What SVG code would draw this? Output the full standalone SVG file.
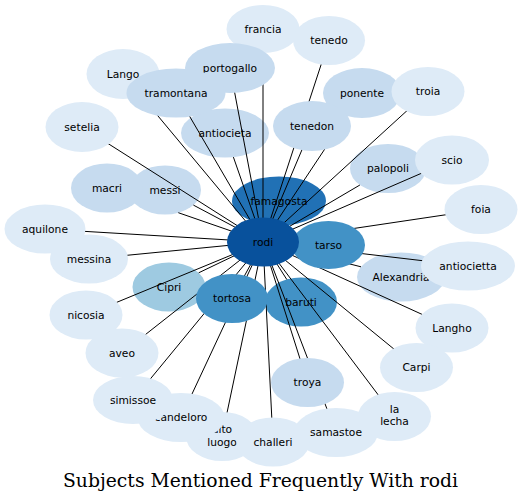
<svg xmlns="http://www.w3.org/2000/svg" width="522" height="503" viewBox="0 0 522 503">
<style>
.n text{font-family:"DejaVu Sans",sans-serif;font-size:10.7px;text-anchor:middle;fill:#000}
.l ellipse{fill:#deebf7}
.m ellipse{fill:#c6dbef}
.c ellipse{fill:#9ecae1}
.t ellipse{fill:#4292c6}
.f ellipse{fill:#2171b5}
.r ellipse{fill:#08519c}
#edges line{stroke:#000;stroke-width:1}
.title{font-family:"DejaVu Serif",serif;font-size:18px;text-anchor:middle;fill:#000}
</style>
<rect width="522" height="503" fill="#fff"/>
<g id="nodes-under">
<g id="antiocieta" class="n m"><ellipse cx="225" cy="133" rx="44" ry="24.5"/><text x="225" y="136.5">antiocieta</text></g>
<g id="palopoli" class="n m"><ellipse cx="388" cy="168.5" rx="38" ry="24.5"/><text x="388" y="172">palopoli</text></g>
<g id="messi" class="n m"><ellipse cx="165" cy="190" rx="36" ry="24.5"/><text x="165" y="193.5">messi</text></g>
<g id="famagosta" class="n f"><ellipse cx="279" cy="201" rx="47" ry="24.5"/><text x="279" y="204.5">famagosta</text></g>
<g id="Cipri" class="n c"><ellipse cx="169" cy="287" rx="36.5" ry="24.5"/><text x="169" y="290.5">Cipri</text></g>
<g id="baruti" class="n t"><ellipse cx="301" cy="302" rx="36" ry="24.5"/><text x="301" y="305.5">baruti</text></g>
<g id="Alexandria" class="n m"><ellipse cx="401" cy="277" rx="44" ry="24.5"/><text x="401" y="280.5">Alexandria</text></g>
</g>
<g id="edges">
<line x1="263" y1="242" x2="263" y2="29"/>
<line x1="263" y1="242" x2="329" y2="40.5"/>
<line x1="263" y1="242" x2="230" y2="68"/>
<line x1="263" y1="242" x2="123" y2="74"/>
<line x1="263" y1="242" x2="176" y2="93"/>
<line x1="263" y1="242" x2="82" y2="127"/>
<line x1="263" y1="242" x2="233.4" y2="157.1"/>
<line x1="263" y1="242" x2="362" y2="93"/>
<line x1="263" y1="242" x2="428" y2="91.5"/>
<line x1="263" y1="242" x2="312" y2="126"/>
<line x1="263" y1="242" x2="359.9" y2="185"/>
<line x1="263" y1="242" x2="452" y2="160"/>
<line x1="263" y1="242" x2="481" y2="209.5"/>
<line x1="263" y1="242" x2="178.3" y2="212.7"/>
<line x1="263" y1="242" x2="193.4" y2="205.1"/>
<line x1="263" y1="242" x2="45" y2="229"/>
<line x1="263" y1="242" x2="89" y2="259"/>
<line x1="263" y1="242" x2="198.7" y2="272.8"/>
<line x1="263" y1="242" x2="86" y2="315"/>
<line x1="263" y1="242" x2="232" y2="298.5"/>
<line x1="263" y1="242" x2="286.8" y2="279.5"/>
<line x1="263" y1="242" x2="361" y2="266.8"/>
<line x1="263" y1="242" x2="468" y2="266"/>
<line x1="263" y1="242" x2="452" y2="328"/>
<line x1="263" y1="242" x2="416.5" y2="367.5"/>
<line x1="263" y1="242" x2="394.5" y2="416.5"/>
<line x1="263" y1="242" x2="336" y2="432.5"/>
<line x1="263" y1="242" x2="307.5" y2="382.5"/>
<line x1="263" y1="242" x2="273" y2="442"/>
<line x1="263" y1="242" x2="222" y2="436.5"/>
<line x1="263" y1="242" x2="181" y2="417.5"/>
<line x1="263" y1="242" x2="133" y2="400"/>
<line x1="263" y1="242" x2="122" y2="353"/>
</g>
<g id="nodes-over">
<g id="francia" class="n l"><ellipse cx="263" cy="29" rx="36.5" ry="24"/><text x="263" y="32.5">francia</text></g>
<g id="tenedo" class="n l"><ellipse cx="329" cy="40.5" rx="36" ry="24.5"/><text x="329" y="44">tenedo</text></g>
<g id="Lango" class="n l"><ellipse cx="123" cy="74" rx="36.5" ry="25"/><text x="123" y="77.5">Lango</text></g>
<g id="portogallo" class="n m"><ellipse cx="230" cy="68" rx="45" ry="25"/><text x="230" y="71.5">portogallo</text></g>
<g id="tramontana" class="n m"><ellipse cx="176" cy="93" rx="49.5" ry="24.5"/><text x="176" y="96.5">tramontana</text></g>
<g id="setelia" class="n l"><ellipse cx="82" cy="127" rx="36.5" ry="25"/><text x="82" y="130.5">setelia</text></g>
<g id="ponente" class="n m"><ellipse cx="362" cy="93" rx="39" ry="25"/><text x="362" y="96.5">ponente</text></g>
<g id="troia" class="n l"><ellipse cx="428" cy="91.5" rx="36.5" ry="24.5"/><text x="428" y="95">troia</text></g>
<g id="tenedon" class="n m"><ellipse cx="312" cy="126" rx="39" ry="25"/><text x="312" y="129.5">tenedon</text></g>
<g id="scio" class="n l"><ellipse cx="452" cy="160" rx="37" ry="24.5"/><text x="452" y="163.5">scio</text></g>
<g id="foia" class="n l"><ellipse cx="481" cy="209.5" rx="36.5" ry="24.5"/><text x="481" y="213">foia</text></g>
<g id="macri" class="n m"><ellipse cx="107" cy="188" rx="36" ry="24.5"/><text x="107" y="191.5">macri</text></g>
<g id="aquilone" class="n l"><ellipse cx="45" cy="229" rx="40.5" ry="24.5"/><text x="45" y="232.5">aquilone</text></g>
<g id="messina" class="n l"><ellipse cx="89" cy="259" rx="39" ry="24.5"/><text x="89" y="262.5">messina</text></g>
<g id="nicosia" class="n l"><ellipse cx="86" cy="315" rx="36.5" ry="24.5"/><text x="86" y="318.5">nicosia</text></g>
<g id="aveo" class="n l"><ellipse cx="122" cy="353" rx="36.5" ry="24.5"/><text x="122" y="356.5">aveo</text></g>
<g id="antiocietta" class="n l"><ellipse cx="468" cy="266" rx="47" ry="24.5"/><text x="468" y="269.5">antiocietta</text></g>
<g id="Langho" class="n l"><ellipse cx="452" cy="328" rx="36.5" ry="24.5"/><text x="452" y="331.5">Langho</text></g>
<g id="Carpi" class="n l"><ellipse cx="416.5" cy="367.5" rx="36.5" ry="24.5"/><text x="416.5" y="371">Carpi</text></g>
<g id="la-lecha" class="n l"><ellipse cx="394.5" cy="416.5" rx="36.5" ry="24.5"/><text x="394.5" y="413">la</text><text x="394.5" y="425">lecha</text></g>
<g id="samastoe" class="n l"><ellipse cx="336" cy="432.5" rx="42" ry="24.5"/><text x="336" y="436">samastoe</text></g>
<g id="troya" class="n m"><ellipse cx="307.5" cy="382.5" rx="36.5" ry="24.5"/><text x="307.5" y="386">troya</text></g>
<g id="alto-luogo" class="n l"><ellipse cx="222" cy="436.5" rx="36" ry="24.5"/><text x="222" y="433">alto</text><text x="222" y="445.5">luogo</text></g>
<g id="candeloro" class="n l"><ellipse cx="181" cy="417.5" rx="43.5" ry="24.5"/><text x="181" y="421">candeloro</text></g>
<g id="simissoe" class="n l"><ellipse cx="133" cy="400" rx="40" ry="24"/><text x="133" y="403.5">simissoe</text></g>
<g id="challeri" class="n l"><ellipse cx="273" cy="442" rx="36.5" ry="24.5"/><text x="273" y="445.5">challeri</text></g>
<g id="tortosa" class="n t"><ellipse cx="232" cy="298.5" rx="36" ry="24.5"/><text x="232" y="302">tortosa</text></g>
<g id="tarso" class="n t"><ellipse cx="328.5" cy="245" rx="36.5" ry="24"/><text x="328.5" y="248.5">tarso</text></g>
<g id="rodi" class="n r"><ellipse cx="263" cy="242" rx="36" ry="24.5"/><text x="263" y="245.5">rodi</text></g>
</g>
<text class="title" x="260.5" y="487" textLength="395" lengthAdjust="spacingAndGlyphs">Subjects Mentioned Frequently With rodi</text>
</svg>
